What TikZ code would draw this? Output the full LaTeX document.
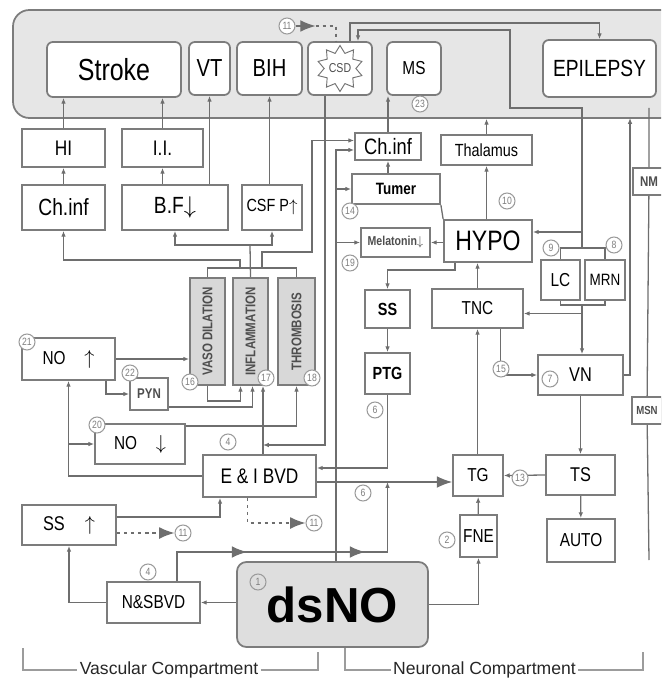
\documentclass[tikz,border=0pt]{standalone}
\usepackage{fontspec}
\setmainfont{Liberation Sans}[FakeStretch=0.82]
\newfontfamily\widefont{Liberation Sans}
\usetikzlibrary{positioning,arrows.meta,calc,shapes.geometric}
\definecolor{linegray}{HTML}{6E6E6E}
\definecolor{boxdraw}{HTML}{7C7C7C}
\definecolor{headfill}{HTML}{E6E6E6}
\definecolor{dsnofill}{HTML}{DEDEDE}
\definecolor{colfill}{HTML}{D8D8D8}
\definecolor{coltext}{HTML}{4E4E4E}
\definecolor{numdraw}{HTML}{9A9A9A}
\definecolor{numtext}{HTML}{7E7E7E}
\definecolor{brkgray}{HTML}{9C9C9C}

\begin{document}
\begin{tikzpicture}[
    x=0.03cm, y=-0.03cm,
    >={Latex[length=5pt,width=4pt]},
    fs/.style={font=\fontsize{#1}{#1}\selectfont},
    fsb/.style={font=\fontsize{#1}{#1}\selectfont\bfseries},
    sz/.style 2 args={minimum width=#1*0.03cm, minimum height=#2*0.03cm},
    base/.style={rectangle, draw=boxdraw, fill=white, line width=1.5pt,
                 inner sep=1pt, align=center},
    rbox/.style={base, rounded corners=5pt},
    col/.style={base, fill=colfill, text=coltext},
    numc/.style={circle, draw=numdraw, fill=white, line width=0.9pt, inner sep=0pt,
                 minimum size=16*0.03cm, fs=9, text=numtext},
    wire/.style={draw=linegray, line width=1.1pt},
    flow/.style={->, wire},
    bigtip/.style={-{Latex[length=13pt,width=10pt]}, wire},
    dflow/.style={bigtip, dashed},
    brk/.style={draw=brkgray, line width=1.3pt},
    compl/.style={font=\widefont\fontsize{15}{15}\selectfont, text=black!85, inner sep=2pt},
]
\useasboundingbox (0,0) rectangle (661,682);
\clip (0,0) rectangle (661,682);

% ---------------- Disorders (top band) ----------------
\node[base, rounded corners=14pt, fill=headfill, sz={700}{108}] (head) at (363,64) {};
\node[rbox, sz={134}{55}, fs=26] (stroke) at (114,69.5) {Stroke};
\node[rbox, sz={41}{53}, fs=21] (vt) at (209.5,68.5) {VT};
\node[rbox, sz={65}{53}, fs=21] (bih) at (269.5,68.5) {BIH};
\node[rbox, sz={64}{53}] (csd) at (340,68.5) {};
\node[star, star points=10, star point ratio=1.45, draw=black!55, line width=0.8pt,
      minimum size=46*0.03cm, inner sep=0pt, fs=11, text=coltext] (csdstar) at (csd.center) {CSD};
\node[rbox, sz={54}{53}, fs=16] (ms) at (414,68.5) {MS};
\node[rbox, sz={113}{57}, fs=20] (epi) at (599.5,68.5) {EPILEPSY};

% ---------------- Vascular side ----------------
\node[base, sz={83}{38}, fs=18] (hi) at (63.5,148) {HI};
\node[base, sz={81}{38}, fs=18] (ii) at (162.5,148) {I.I.};
\node[base, sz={83}{45}, fs=20] (chinfa) at (63.5,207.5) {Ch.inf};
\node[base, sz={106}{45}, fs=20] (bf) at (175,207.5) {B.F$\downarrow$};
\node[base, sz={60}{45}, fs=15] (csfp) at (272,207.5) {CSF P$\uparrow$};

\node[col, sz={35}{107}, fsb=12] (vaso) at (207.5,331.5) {\rotatebox{90}{VASO DILATION}};
\node[col, sz={35}{107}, fsb=12] (infl) at (250.5,331.5) {\rotatebox{90}{INFLAMMATION}};
\node[col, sz={37}{107}, fsb=12] (thro) at (296.5,331.5) {\rotatebox{90}{THROMBOSIS}};

\node[base, sz={93}{42}, fs=16] (noup) at (68.5,359) {NO\quad$\uparrow$};
\node[base, sz={38}{32}, fsb=12, text=coltext] (pyn) at (149,394) {PYN};
\node[base, sz={90}{40}, fs=16] (nodown) at (140,444) {NO\quad$\downarrow$};
\node[base, sz={113}{42}, fs=18] (eibvd) at (259.5,476) {E \& I BVD};
\node[base, sz={94}{40}, fs=17] (ssup) at (69,525) {SS\quad$\uparrow$};
\node[base, sz={93}{41}, fs=16] (nsbvd) at (153.5,602.5) {N\&SBVD};
\node[base, rounded corners=8pt, fill=dsnofill, sz={191}{85},
      font=\widefont\fontsize{42}{42}\selectfont\bfseries] (dsno) at (332.5,604.5) {dsNO};

% ---------------- Neuronal side ----------------
\node[base, sz={66}{27}, fs=19] (chinfb) at (388,146.5) {Ch.inf};
\node[base, sz={91}{30}, fs=15] (thal) at (486.5,150) {Thalamus};
\node[base, sz={88}{30}, fsb=14] (tumer) at (396,189) {Tumer};
\node[base, sz={69}{29}, fsb=11, text=coltext] (melat) at (395.5,242.5) {Melatonin$\downarrow$};
\node[base, sz={88}{42}, fs=24] (hypo) at (488,241) {HYPO};
\node[base, sz={39}{40}, fs=16] (lc) at (560.5,280) {LC};
\node[base, sz={40}{40}, fs=14] (mrn) at (605,280) {MRN};
\node[base, sz={45}{38}, fsb=15] (ssb) at (387.5,309) {SS};
\node[base, sz={45}{41}, fsb=15] (ptg) at (387.5,373.5) {PTG};
\node[base, sz={91}{39}, fs=16] (tnc) at (477.5,308.5) {TNC};
\node[base, sz={85}{40}, fs=17] (vn) at (580.5,375) {VN};
\node[base, sz={32}{27}, fsb=12, text=coltext] (nm) at (649,181.5) {NM};
\node[base, sz={30}{27}, fsb=10, text=coltext] (msn) at (647,410.5) {MSN};
\node[base, sz={50}{41}, fs=16] (tg) at (478,475.5) {TG};
\node[base, sz={69}{40}, fs=17] (ts) at (580.5,475) {TS};
\node[base, sz={68}{43}, fs=16] (auto) at (581,540.5) {AUTO};
\node[base, sz={37}{42}, fs=16] (fne) at (478.5,536) {FNE};

% ---------------- bend points ----------------
\coordinate (brk3) at (250,268);
\coordinate (rowbf) at (250,245);
\coordinate (rowch) at (240,260);
\coordinate (busA) at (312,252);
\coordinate (busC) at (325,445);
\coordinate (eiT) at (263,445);
\coordinate (busD) at (336,150);
\coordinate (hb) at (455,270);
\coordinate (eiP) at ($(eibvd.east)+(0,-8)$);
\coordinate (eiR) at ($(eibvd.east)+(0,6)$);
\coordinate (rowN) at (177,552);
\coordinate (eiS) at (220,517);
\coordinate (lmT) at (582,248);
\coordinate (lmB) at (582,305);
\coordinate (lmV) at (582,108);
\coordinate (kinkB) at (510,30);
\coordinate (hypoR) at ($(hypo.east)+(0,-9)$);
\coordinate (tncR) at ($(tnc.east)+(0,5)$);
\coordinate (csdT) at (350,23);
\coordinate (colR) at (630,118);
\coordinate (rtop) at (649,108);
\coordinate (rbot) at (649,560);

% ---------------- vascular connectors ----------------
\draw[flow] (hi.north) -- (hi.north |- stroke.south);
\draw[flow] (chinfa) -- (hi);
\draw[flow] (ii.north) -- (ii.north |- stroke.south);
\draw[flow] (ii.south |- bf.north) -- (ii.south);
\draw[flow] (vt.south |- bf.north) -- (vt.south);
\draw[flow] (bih.south |- csfp.north) -- (bih.south);

\draw[wire] (vaso.north) |- (brk3) -| (thro.north);
\draw[wire] (infl.north) -- (rowbf);
\draw[flow] (rowbf) -| (bf.south);
\draw[flow] (rowbf) -| (csfp.south);
\draw[flow] (rowch |- brk3) -- (rowch) -| (chinfa.south);
\draw[flow] ($(brk3)+(12,0)$) |- (busA) |- ($(chinfb.west)+(0,-6)$);

\draw[flow] (csd.south -| busC) -- (busC) -- (eiT);
\draw[flow] (eiT |- eibvd.north) -- (eiT |- infl.south);
\draw[flow] (vaso.south) -- ++(0,15) -| ($(infl.south)+(-10,0)$);
\draw[flow] ($(pyn.south east)+(0,-4)$) -| ($(infl.south)+(2,0)$);
\draw[flow] ($(nodown.north east)+(0,3)$) -| (thro.south);
\draw[flow] (noup.east) -- (noup.east -| vaso.west);
\draw[flow] ($(noup.south east)+(-10,0)$) |- (pyn.west);
\draw[flow] (eibvd.west) -| (noup.south);
\draw[flow] (noup.south |- nodown.west) -- (nodown.west);
\draw[flow] (ssup.east |- eiS) -| (eiS |- eibvd.south);

\draw[flow] (dsno.west |- nsbvd.east) -- (nsbvd.east);
\draw[flow] (nsbvd.west) -| (ssup.south);
\draw[flow] (rowN |- nsbvd.north) -- (rowN) -| (ptg.south |- eiR);
\draw[bigtip] (rowN) -- ++(70,0);
\draw[bigtip] ($(rowN)+(70,0)$) -- ++(118,0);

% ---------------- neuronal connectors ----------------
\draw[flow] (dsno.north -| busD) -- (busD) -- (busD -| chinfb.west);
\foreach \n in {tumer, melat}
  \draw[flow] (busD |- \n.west) -- (\n.west);
\draw[flow] (chinfb.north) -- (chinfb.north |- ms.south);
\draw[flow] (chinfb.south |- tumer.north) -- (chinfb.south);
\draw[wire] (tumer.south east) -- (hypo.north west);
\draw[flow] (thal.south |- hypo.north) -- (thal.south);
\draw[flow] (thal.north) -- (thal.north |- head.south);
\draw[flow] (hypo.west |- melat.east) -- (melat.east);
\draw[flow] (hb |- hypo.south) -- (hb) -| (ssb.north);
\draw[flow] (ssb) -- (ptg);
\draw[flow] (ptg.south) |- (eiP);
\draw[bigtip] (eiR) -- (eiR -| tg.west);
\draw[flow] (dsno.east) -| (fne.south);
\draw[flow] (fne) -- (tg);
\draw[flow] (ts.west) -- (tg.east);
\draw[flow] (tnc.south |- tg.north) -- (tnc.south);
\draw[flow] (tnc.north) -- (tnc.north |- hypo.south);
\draw[flow] ($(tnc.south)+(23,0)$) |- (vn.west);
\draw[flow] (vn) -- (ts);
\draw[flow] (ts) -- (auto);

\draw[wire] (lc.north) |- (lmT) -| (mrn.north);
\draw[wire] (lc.south) |- (lmB) -| (mrn.south);
\draw[flow] (lmB) -- (lmB |- vn.north);
\draw[flow] (lmB |- tncR) -- (tncR);
\draw[flow] (lmT) -- (lmV) -| (kinkB) -| ($(csd.north)+(18,0)$);
\draw[flow] (lmT |- hypoR) -- (hypoR);
\draw[flow] (csdT |- csd.north) -- (csdT) -| (epi.north);
\draw[flow] (vn.east) -| (colR);
\draw[wire] (rtop) -- (nm) -- (msn) -- (rbot);

% ---------------- numbered markers ----------------
\foreach \nm/\cx/\cy/\lab in {n11top/287/26/11, n23/420/104/23, n14/350/211/14,
    n10/507/201/10, n19/350/263/19, n9/551/248/9, n8/614/245/8, n6a/375/410/6,
    n15/501/369/15, n7/550/379/7, n21/27/342/21, n22/130/373/22, n20/97/425/20,
    n16/190/382/16, n17/266/378/17, n18/312/378/18, n4a/228/442/4, n6b/363/493/6,
    n11s/183/533/11, n11e/314/523/11, n4b/148/572/4, n13/520/478/13, n2/447/540/2}
  \node[numc] (\nm) at (\cx,\cy) {\lab};
\node[numc, fill=dsnofill] (n1) at (258,582) {1};

\draw[dflow] (ssup.east |- n11s) -- (n11s.west);
\draw[dflow] ($(eibvd.south)+(-12,0)$) |- (n11e.west);
\draw[bigtip] (n11top.east) -- ++(20,0);
\draw[wire, dashed] ($(n11top.east)+(20,0)$) -| ($(csd.north)+(-4,0)$);

% ---------------- compartments ----------------
\node[compl] (vasc) at (169,670) {Vascular Compartment};
\node[compl] (neur) at (484.5,670) {Neuronal Compartment};
\coordinate (vascL) at (23,648);
\coordinate (vascR) at (318,652);
\coordinate (neurL) at (345,648);
\coordinate (neurR) at (643,652);
\draw[brk] (vascL) |- (vasc.west);
\draw[brk] (vasc.east) -| (vascR);
\draw[brk] (neurL) |- (neur.west);
\draw[brk] (neur.east) -| (neurR);

\end{tikzpicture}
\end{document}
